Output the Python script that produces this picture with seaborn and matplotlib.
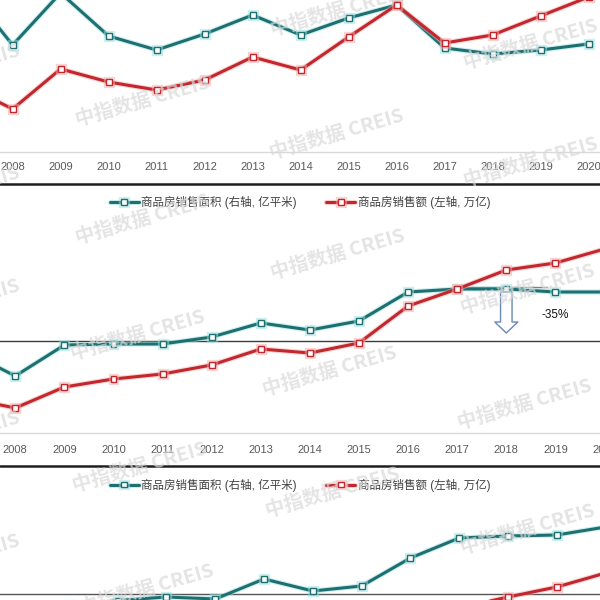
import numpy as np
import pandas as pd
import matplotlib
matplotlib.use("Agg")
import matplotlib.pyplot as plt
import matplotlib.patheffects as pe
from matplotlib.lines import Line2D
import seaborn as sns

# values (arbitrary units, one scale per panel)
years = list(range(2007, 2021))
tick_years = list(range(2008, 2021))

top_area = [16.7, 10.7, 15.9, 11.6, 10.2, 11.8, 13.7, 11.7, 13.4, 14.7, 10.4, 9.8, 10.2, 10.8]
top_amount = [6.7, 4.3, 8.3, 7.0, 6.2, 7.2, 9.5, 8.2, 11.5, 14.7, 10.9, 11.7, 13.6, 15.5]

mid_area = [8.2, 5.7, 8.8, 8.9, 8.9, 9.6, 11.0, 10.3, 11.2, 14.1, 14.4, 14.4, 14.1, 14.1]
mid_amount = [3.5, 2.5, 4.6, 5.4, 5.9, 6.8, 8.4, 8.0, 9.0, 12.7, 14.4, 16.3, 17.0, 18.4]
mid_hline = 9.2
mid_ref = 14.6
mid_drop = "-35%"

low_area = [np.nan, np.nan, 1.5, 1.95, 2.3, 2.1, 4.1, 2.9, 3.4, 6.2, 8.2, 8.4, 8.5, 9.3]
low_amount = [np.nan] * 10 + [1.2, 2.3, 3.3, 4.7]
low_hline = 2.6

label_area = "商品房销售面积 (右轴, 亿平米)"
label_amount = "商品房销售额 (左轴, 万亿)"
watermark = "中指数据 CREIS"

TEAL, TEAL_GLOW = "#1f6f70", "#9be0e0"
RED, RED_GLOW = "#c2272d", "#f5aaaa"

sns.set_theme(style="white")
plt.rcParams["font.family"] = ["Liberation Sans", "Noto Sans CJK SC", "DejaVu Sans"]

fig = plt.figure(figsize=(6, 6), dpi=100)


def px_axes(y0, y1):
    # axes a bit wider than the figure so lines run off both edges
    return fig.add_axes([-40 / 600, 1 - y1 / 600, 680 / 600, (y1 - y0) / 600])


def draw_pair(ax, area, amount):
    df = pd.DataFrame({"year": years, "area": area, "amount": amount})
    for col, c, lab in [("area", TEAL, label_area), ("amount", RED, label_amount)]:
        sns.lineplot(data=df, x="year", y=col, ax=ax, color=c, linewidth=2.2,
                     marker="s", markersize=4.2, markerfacecolor="white",
                     markeredgecolor=c, markeredgewidth=1.0, label=lab)
    for line, g in zip(ax.lines[-2:], [TEAL_GLOW, RED_GLOW]):
        line.set_path_effects([pe.Stroke(linewidth=3.8, foreground=g, alpha=0.5), pe.Normal()])


def style(ax, xlim, ylim, pad, show_ticks=True):
    ax.set_xlim(*xlim)
    ax.set_ylim(*ylim)
    ax.set_xlabel("")
    ax.set_ylabel("")
    ax.set_yticks([])
    for s in ["top", "left", "right"]:
        ax.spines[s].set_visible(False)
    ax.spines["bottom"].set_color("#d9d9d9")
    ax.spines["bottom"].set_linewidth(1)
    if show_ticks:
        ax.set_xticks(tick_years)
        ax.set_xticklabels([str(y) for y in tick_years])
        ax.tick_params(axis="x", length=0, pad=pad, labelsize=8, labelcolor="#595959")
    else:
        ax.set_xticks([])
        ax.spines["bottom"].set_visible(False)
    ax.patch.set_alpha(0)


def add_legend(ax, ypx):
    ax.legend(loc="center", bbox_to_anchor=(0.5, 1 - ypx / 600), bbox_transform=fig.transFigure,
              ncol=2, frameon=False, fontsize=8.3, handlelength=2.5, columnspacing=2.6,
              handletextpad=0.2, borderpad=0, labelcolor="#404040")


# top panel
ax1 = px_axes(-30, 152)
draw_pair(ax1, top_area, top_amount)
style(ax1, (2006.904, 2021.071), (0, 18.2), 7.4)
ax1.get_legend().remove()

# middle panel
ax2 = px_axes(186, 433)
draw_pair(ax2, mid_area, mid_amount)
style(ax2, (2006.874, 2020.723), (0, 24.7), 8.4)
ax2.axhline(mid_hline, color="#3c3c3c", lw=1, zorder=1)
ax2.plot([2017, 2018.83], [mid_ref, mid_ref], color="#808080", lw=1, zorder=1)
ax2.annotate("", xy=(2018, 10.0), xytext=(2018, 14.1),
             arrowprops=dict(arrowstyle="simple,head_length=1.1,head_width=2.3,tail_width=1.15",
                             fc="white", ec="#6a88b2", lw=1, mutation_scale=7.2,
                             shrinkA=0, shrinkB=0))
ax2.text(2019, 11.8, mid_drop, ha="center", va="center", fontsize=8.5, color="#111111")
add_legend(ax2, 202.5)

# bottom panel
ax3 = px_axes(490, 640)
draw_pair(ax3, low_area, low_amount)
style(ax3, (2006.770, 2020.705), (-2, 13), 8, show_ticks=False)
ax3.axhline(low_hline, color="#555555", lw=1, zorder=1)
add_legend(ax3, 485)

# separators between the stacked charts
for ypx in [184, 466]:
    fig.add_artist(Line2D([0, 1], [1 - ypx / 600] * 2, transform=fig.transFigure,
                          color="#1e1e1e", lw=1.8))

# watermark grid
marks = [(338, 12), (531, 45), (143, 102), (337, 135), (531, 163), (-47, 70), (-47, 192),
         (143, 220), (338, 255), (528, 290), (138, 336), (330, 372), (525, 405),
         (-47, 305), (-47, 437), (140, 468), (333, 493), (528, 530), (147, 590), (-47, 560)]
for x, y in marks:
    fig.text(x / 600, 1 - y / 600, watermark, rotation=16, ha="center", va="center",
             fontsize=14, fontweight="bold", color="#d9d9d9", alpha=0.7, zorder=10,
             family=["Noto Sans CJK SC", "DejaVu Sans"])

fig.savefig("out.png", dpi=100)
